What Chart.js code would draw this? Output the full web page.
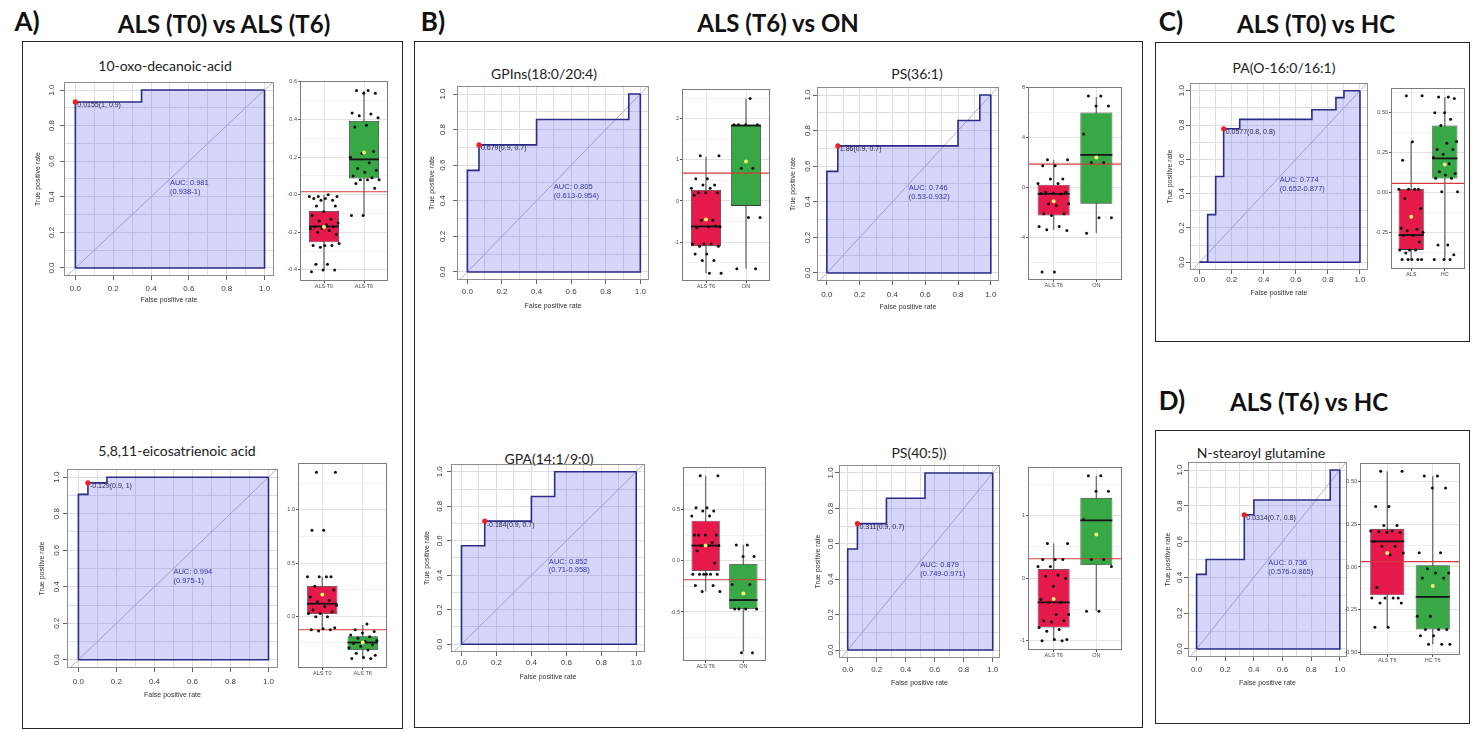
<!DOCTYPE html>
<html>
<head>
<meta charset="utf-8">
<script src="https://cdn.jsdelivr.net/npm/chart.js@4.4.1/dist/chart.umd.min.js"></script>
<style>
  body { margin:0; width:1472px; height:732px; background:#fff; position:relative; overflow:hidden; font-family:Lato, "Open Sans", sans-serif; }
  .frame { position:absolute; border:1px solid #262626; box-sizing:border-box; }
  .tag { position:absolute; font-weight:700; font-size:26px; color:#111; transform:translate(-50%,-50%); white-space:nowrap; }
  .head { position:absolute; font-weight:700; font-size:24px; color:#111; transform:translate(-50%,-50%); white-space:nowrap; }
  .sub { position:absolute; font-size:14px; color:#222; transform:translate(-50%,-50%); white-space:nowrap; }
  canvas { position:absolute; }
</style>
</head>
<body>
<div class="frame" style="left:22px;top:41px;width:381px;height:688px"></div>
<div class="frame" style="left:414px;top:41px;width:729px;height:687px"></div>
<div class="frame" style="left:1155px;top:42px;width:315px;height:300px"></div>
<div class="frame" style="left:1155px;top:430px;width:315px;height:294px"></div>

<div class="tag" style="left:27px;top:21px">A)</div>
<div class="head" style="left:224px;top:23px">ALS (T0) vs ALS (T6)</div>
<div class="tag" style="left:433px;top:21px">B)</div>
<div class="head" style="left:778px;top:22px">ALS (T6) vs ON</div>
<div class="tag" style="left:1171px;top:21px">C)</div>
<div class="head" style="left:1316px;top:23px">ALS (T0) vs HC</div>
<div class="tag" style="left:1172px;top:400px">D)</div>
<div class="head" style="left:1309px;top:401px">ALS (T6) vs HC</div>

<div class="sub" style="left:165px;top:65px">10-oxo-decanoic-acid</div>
<div class="sub" style="left:177px;top:450px">5,8,11-eicosatrienoic acid</div>
<div class="sub" style="left:544px;top:73px">GPIns(18:0/20:4)</div>
<div class="sub" style="left:917px;top:73px">PS(36:1)</div>
<div class="sub" style="left:549px;top:458px">GPA(14:1/9:0)</div>
<div class="sub" style="left:919px;top:452px">PS(40:5))</div>
<div class="sub" style="left:1284px;top:67px">PA(O-16:0/16:1)</div>
<div class="sub" style="left:1261px;top:452px">N-stearoyl glutamine</div>

<script>
// ---------- axis ticks shared by the ROC plots ----------
const rateTicks  = [0, 0.1, 0.2, 0.3, 0.4, 0.5, 0.6, 0.7, 0.8, 0.9, 1.0];
const rateLabels = ['0.0', '', '0.2', '', '0.4', '', '0.6', '', '0.8', '', '1.0'];

// ---------- A) 10-oxo-decanoic-acid ----------
const oxoRoc = [[0,0],[0,0.933],[0.35,0.933],[0.35,1],[1,1]];
const oxoBest = [0, 0.933];
const oxoBestText = '0.0155(1, 0.9)';
const oxoAuc = ['AUC: 0.981', '(0.938-1)'];
const oxoCutoff = 0.0155;
const oxoGroups = ['ALS T0', 'ALS T6'];
// whisker low, Q1, median, Q3, whisker high
const oxoStatsA = [-0.40, -0.253, -0.169, -0.086, 0.0];
const oxoStatsB = [-0.112, 0.086, 0.188, 0.392, 0.552];
const oxoMeans = [-0.172, 0.224];
const oxoPtsA = [-0.01,-0.01,-0.02,-0.02,-0.03,-0.03,-0.01,0.0,-0.06,-0.06,-0.09,-0.11,-0.13,-0.14,-0.15,-0.16,-0.17,-0.17,-0.18,-0.18,-0.19,-0.2,-0.21,-0.27,-0.27,-0.27,-0.28,-0.26,-0.37,-0.37,-0.4,-0.4,-0.41];
const oxoPtsB = [0.555,0.555,0.54,0.54,0.435,0.43,0.42,0.41,0.37,0.36,0.23,0.22,0.2,0.17,0.14,0.13,0.12,0.1,0.09,0.08,0.08,0.08,0.06,0.035,-0.11,-0.11];
const oxoYTicks = [-0.4, -0.2, 0.0, 0.2, 0.4, 0.6];

// ---------- A) 5,8,11-eicosatrienoic acid ----------
const eicoRoc = [[0,0],[0,0.906],[0.05,0.906],[0.05,0.969],[0.15,0.969],[0.15,1],[1,1]];
const eicoBest = [0.05, 0.969];
const eicoBestText = '-0.129(0.9, 1)';
const eicoAuc = ['AUC: 0.994', '(0.975-1)'];
const eicoCutoff = -0.129;
const eicoGroups = ['ALS T0', 'ALS T6'];
const eicoStatsA = [-0.116, 0.019, 0.116, 0.283, 0.37];
const eicoStatsB = [-0.40, -0.32, -0.25, -0.19, -0.085];
const eicoMeans = [0.204, -0.25];
const eicoPtsA = [1.355,1.355,0.81,0.81,0.37,0.37,0.37,0.37,0.28,0.245,0.21,0.18,0.15,0.135,0.1,0.09,0.057,0.04,0.025,0.025,-0.006,-0.006,-0.11,-0.12,-0.13,-0.13,-0.14];
const eicoPtsB = [-0.075,-0.13,-0.145,-0.16,-0.18,-0.195,-0.21,-0.23,-0.24,-0.26,-0.27,-0.285,-0.3,-0.32,-0.35,-0.37,-0.39,-0.4,-0.4];
const eicoYTicks = [0.0, 0.5, 1.0];

// ---------- B) GPIns(18:0/20:4) ----------
const gpinsRoc = [[0,0],[0,0.571],[0.067,0.571],[0.067,0.714],[0.4,0.714],[0.4,0.857],[0.933,0.857],[0.933,1],[1,1]];
const gpinsBest = [0.067, 0.714];
const gpinsBestText = '0.679(0.9, 0.7)';
const gpinsAuc = ['AUC: 0.805', '(0.613-0.954)'];
const gpinsCutoff = 0.679;
const gpinsGroups = ['ALS T6', 'ON'];
const gpinsStatsA = [-1.76, -1.1, -0.62, 0.27, 1.08];
const gpinsStatsB = [-1.65, -0.12, 1.84, 1.86, 2.5];
const gpinsMeans = [-0.45, 0.96];
const gpinsPtsA = [1.1,1.1,0.54,0.54,0.39,0.39,0.31,0.31,0.2,0.2,0.2,0.14,-0.47,-0.47,-0.63,-0.63,-0.65,-0.61,-1.05,-1.05,-1.05,-1.1,-1.1,-1.29,-1.29,-1.45,-1.45,-1.76,-1.76];
const gpinsPtsB = [2.5,1.86,1.86,1.86,1.86,0.8,0.8,-0.4,-0.4,-1.65,-1.65];
const gpinsYTicks = [-1, 0, 1, 2];

// ---------- B) PS(36:1) ----------
const ps361Roc = [[0,0],[0,0.571],[0.067,0.571],[0.067,0.714],[0.8,0.714],[0.8,0.857],[0.933,0.857],[0.933,1],[1,1]];
const ps361Best = [0.067, 0.714];
const ps361BestText = '1.86(0.9, 0.7)';
const ps361Auc = ['AUC: 0.746', '(0.53-0.932)'];
const ps361Cutoff = 1.86;
const ps361Groups = ['ALS T6', 'ON'];
const ps361StatsA = [-3.41, -2.27, -0.53, 0.21, 2.21];
const ps361StatsB = [-3.68, -1.33, 2.61, 6.0, 7.25];
const ps361Means = [-1.12, 2.4];
const ps361PtsA = [2.21,2.21,1.73,1.73,0.67,0.67,0.3,0.3,-0.4,-0.4,-0.45,-0.5,-0.53,-1.33,-1.33,-1.47,-2.13,-2.13,-2.27,-3.15,-3.15,-3.4,-3.47,-6.8,-6.8];
const ps361PtsB = [7.33,7.33,6.53,6.53,4.27,2.0,2.0,-2.45,-2.45,-3.68];
const ps361YTicks = [-4, 0, 4, 8];

// ---------- B) GPA(14:1/9:0) ----------
const gpaRoc = [[0,0],[0,0.571],[0.133,0.571],[0.133,0.714],[0.4,0.714],[0.4,0.857],[0.533,0.857],[0.533,1],[1,1]];
const gpaBest = [0.133, 0.714];
const gpaBestText = '-0.184(0.9, 0.7)';
const gpaAuc = ['AUC: 0.852', '(0.71-0.958)'];
const gpaCutoff = -0.184;
const gpaGroups = ['ALS T6', 'ON'];
const gpaStatsA = [-0.3, -0.098, 0.15, 0.393, 0.835];
const gpaStatsB = [-0.89, -0.47, -0.383, -0.03, 0.157];
const gpaMeans = [0.15, -0.318];
const gpaPtsA = [0.835,0.835,0.52,0.52,0.49,0.49,0.44,0.44,0.255,0.255,0.255,0.255,0.18,0.15,0.15,0.15,0.1,-0.02,-0.13,-0.13,-0.13,-0.13,-0.13,-0.13,-0.24,-0.24,-0.3,-0.3];
const gpaPtsB = [0.157,0.157,0.043,0.043,-0.23,-0.23,-0.47,-0.47,-0.47,-0.47,-0.9,-0.9];
const gpaYTicks = [-0.5, 0.0, 0.5];

// ---------- B) PS(40:5) ----------
const ps405Roc = [[0,0],[0,0.571],[0.067,0.571],[0.067,0.714],[0.267,0.714],[0.267,0.857],[0.533,0.857],[0.533,1],[1,1]];
const ps405Best = [0.067, 0.714];
const ps405BestText = '0.311(0.9, 0.7)';
const ps405Auc = ['AUC: 0.879', '(0.749-0.971)'];
const ps405Cutoff = 0.311;
const ps405Groups = ['ALS T6', 'ON'];
const ps405StatsA = [-1.0, -0.79, -0.386, 0.148, 0.556];
const ps405StatsB = [-0.53, 0.21, 0.926, 1.286, 1.64];
const ps405Means = [-0.333, 0.7];
const ps405PtsA = [0.556,0.556,0.3,0.3,0.3,0.185,0.185,0.05,0.03,0.0,-0.13,-0.34,-0.386,-0.386,-0.58,-0.58,-0.68,-0.68,-0.7,-0.79,-0.82,-0.85,-0.98,-0.98,-1.0,-1.0];
const ps405PtsB = [1.64,1.64,1.39,1.39,0.94,0.3,0.3,0.185,-0.53,-0.53];
const ps405YTicks = [-1, 0, 1];

// ---------- C) PA(O-16:0/16:1) ----------
const paoRoc = [[0,0],[0.05,0],[0.05,0.278],[0.1,0.278],[0.1,0.5],[0.15,0.5],[0.15,0.778],[0.25,0.778],[0.25,0.833],[0.7,0.833],[0.7,0.889],[0.85,0.889],[0.85,0.96],[0.9,0.96],[0.9,1],[1,1]];
const paoBest = [0.15, 0.778];
const paoBestText = '0.0577(0.8, 0.8)';
const paoAuc = ['AUC: 0.774', '(0.652-0.877)'];
const paoCutoff = 0.0577;
const paoGroups = ['ALS', 'HC'];
const paoStatsA = [-0.42, -0.36, -0.267, 0.022, 0.32];
const paoStatsB = [-0.42, 0.088, 0.214, 0.42, 0.6];
const paoMeans = [-0.152, 0.176];
const paoPtsA = [0.607,0.607,0.318,0.203,0.02,0.02,0.02,0.02,-0.037,-0.1,-0.15,-0.225,-0.23,-0.24,-0.25,-0.27,-0.27,-0.31,-0.36,-0.36,-0.36,-0.38,-0.42,-0.42,-0.42,-0.42,-0.42];
const paoPtsB = [0.6,0.6,0.59,0.5,0.5,0.46,0.42,0.32,0.31,0.27,0.27,0.24,0.22,0.18,0.13,0.12,0.11,0.09,0.09,0.005,0.005,-0.33,-0.33,-0.39,-0.42,-0.42,-0.42];
const paoYTicks = [-0.25, 0.0, 0.25, 0.5];

// ---------- D) N-stearoyl glutamine ----------
const nsgRoc = [[0,0],[0,0.417],[0.067,0.417],[0.067,0.5],[0.333,0.5],[0.333,0.75],[0.4,0.75],[0.4,0.833],[0.933,0.833],[0.933,1],[1,1]];
const nsgBest = [0.333, 0.75];
const nsgBestText = '0.0314(0.7, 0.8)';
const nsgAuc = ['AUC: 0.736', '(0.576-0.865)'];
const nsgCutoff = 0.0314;
const nsgGroups = ['ALS T6', 'HC T6'];
const nsgStatsA = [-0.352, -0.164, 0.149, 0.222, 0.557];
const nsgStatsB = [-0.45, -0.364, -0.174, 0.01, 0.53];
const nsgMeans = [0.081, -0.11];
const nsgPtsA = [0.557,0.557,0.352,0.352,0.242,0.242,0.21,0.21,0.205,0.2,0.2,0.149,0.12,0.12,0.081,0.07,-0.12,-0.18,-0.18,-0.18,-0.18,-0.21,-0.21,-0.35,-0.35];
const nsgPtsB = [0.53,0.53,0.46,0.46,0.083,0.083,-0.01,-0.035,-0.035,-0.064,-0.064,-0.286,-0.286,-0.364,-0.364,-0.364,-0.4,-0.4,-0.45,-0.45,-0.45];
const nsgYTicks = [-0.5, -0.25, 0.0, 0.25, 0.5];

// ---------- styling ----------
const SANS = "'Liberation Sans', Arial, sans-serif";
const NAVY = '#2c2c88';
const ROC_FILL = 'rgba(105,105,235,0.27)';
const BOX_RED = '#e6194b';
const BOX_GREEN = '#38a846';
Chart.defaults.font.family = SANS;
Chart.defaults.animation = false;

function addCanvas(x, y, w, h) {
  const c = document.createElement('canvas');
  c.width = w; c.height = h;
  c.style.left = x + 'px'; c.style.top = y + 'px';
  c.style.width = w + 'px'; c.style.height = h + 'px';
  document.body.appendChild(c);
  return c;
}

const near = (a, b) => Math.abs(a - b) < 1e-6;

// ROC curve with shaded AUC, chance diagonal and the best threshold point
function drawRoc(d, g) {
  const [rx, ry, rw, rh] = g.rect;
  const ml = Math.round(g.yTitle + 4), mt = 8, mr = 8, mb = Math.round(g.xTitle + 4);
  const cv = addCanvas(rx - ml, ry - mt, rw + ml + mr, rh + mt + mb);
  const curve = d.roc.map(p => ({x: p[0], y: p[1]}));
  const end = d.roc[d.roc.length - 1];
  const isMajor = v => rateLabels[rateTicks.findIndex(t => near(t, v))] !== '';
  const text = {
    id: 'rocText',
    afterDraw(chart) {
      const {ctx, chartArea: a, scales: {x, y}} = chart;
      ctx.save();
      ctx.strokeStyle = '#8e8e8e'; ctx.lineWidth = 1;
      ctx.strokeRect(a.left + 0.5, a.top + 0.5, a.right - a.left - 1, a.bottom - a.top - 1);
      ctx.fillStyle = '#3c3c3c'; ctx.font = '8px ' + SANS;
      ctx.textAlign = 'center'; ctx.textBaseline = 'middle';
      rateTicks.forEach((v, i) => {
        if (!rateLabels[i]) return;
        ctx.save();
        ctx.translate(a.left - g.yLab, y.getPixelForValue(v));
        ctx.rotate(-Math.PI / 2);
        ctx.fillText(rateLabels[i], 0, 0);
        ctx.restore();
      });
      ctx.textAlign = 'left'; ctx.font = '7px ' + SANS; ctx.fillStyle = '#26264a';
      ctx.fillText(d.bestText, x.getPixelForValue(d.best[0]) + 2, y.getPixelForValue(d.best[1]) + 3.5);
      ctx.fillStyle = '#3434a6'; ctx.font = '7.5px ' + SANS;
      ctx.fillText(d.auc[0], x.getPixelForValue(0.5), y.getPixelForValue(0.48));
      ctx.fillText(d.auc[1], x.getPixelForValue(0.5), y.getPixelForValue(0.43));
      ctx.restore();
    }
  };
  new Chart(cv, {
    type: 'line',
    data: { datasets: [
      { data: [{x: -0.2, y: -0.2}, {x: 1.2, y: 1.2}], borderColor: '#b2b2cc', borderWidth: 1, pointRadius: 0, fill: false, order: 3 },
      { data: curve, borderColor: NAVY, borderWidth: 1.6, backgroundColor: ROC_FILL, fill: 'origin', pointRadius: 0, order: 2 },
      { data: [{x: end[0], y: end[1]}, {x: 1, y: 0}, {x: 0, y: 0}], borderColor: NAVY, borderWidth: 1.6, pointRadius: 0, fill: false, order: 1 },
      { type: 'scatter', data: [{x: d.best[0], y: d.best[1]}], pointRadius: 2.6, pointBackgroundColor: '#ee2020', pointBorderWidth: 0, order: 0 }
    ]},
    options: {
      responsive: false, devicePixelRatio: 1, events: [],
      layout: { padding: { left: 0, top: mt, right: mr, bottom: 0 } },
      plugins: { legend: { display: false }, tooltip: { enabled: false } },
      scales: {
        x: {
          type: 'linear', min: -0.06, max: 1.05,
          afterBuildTicks: s => { s.ticks = rateTicks.map(v => ({value: v})); },
          afterFit: s => { s.height = mb; },
          ticks: { callback: v => rateLabels[rateTicks.findIndex(t => near(t, v))], font: {size: 8}, color: '#3c3c3c', padding: Math.max(0, g.xLab - 8.8), maxRotation: 0, autoSkip: false },
          grid: { color: '#dddde4', tickLength: 4, tickColor: c => (c.tick && isMajor(c.tick.value)) ? '#666' : 'rgba(0,0,0,0)' },
          border: { display: false },
          title: { display: true, text: 'False positive rate', font: {size: 7}, color: '#333', padding: 0 }
        },
        y: {
          type: 'linear', min: -0.045, max: 1.045,
          afterBuildTicks: s => { s.ticks = rateTicks.map(v => ({value: v})); },
          afterFit: s => { s.width = ml; },
          ticks: { display: false },
          grid: { color: '#dddde4', tickLength: 4, tickColor: c => (c.tick && isMajor(c.tick.value)) ? '#666' : 'rgba(0,0,0,0)' },
          border: { display: false },
          title: { display: true, text: 'True positive rate', font: {size: 7}, color: '#333', padding: 0 }
        }
      }
    },
    plugins: [text]
  });
}

// horizontal spread of the dots inside each group
const spread = k => (((k * 0.6180339887 + 0.31) % 1) - 0.5) * 0.76;

// box plot: two groups with whiskers, median, mean, dots and the cutoff line
function drawBox(d, g) {
  const [rx, ry, rw, rh] = g.rect;
  const ml = 24, mt = 6, mr = 3, mb = 13;
  const cv = addCanvas(rx - ml, ry - mt, rw + ml + mr, rh + mt + mb);
  const half = 0.375;
  const step = d.yTicks[1] - d.yTicks[0];
  const allTicks = [];
  for (let v = d.yTicks[0] - step * 2; v <= g.max + 1e-9; v += step / 2) if (v >= g.min - 1e-9) allTicks.push(v);
  const isMajor = v => d.yTicks.some(t => near(t, v));
  const groups = [
    {stats: d.statsA, mean: d.means[0], pts: d.ptsA},
    {stats: d.statsB, mean: d.means[1], pts: d.ptsB}
  ];
  const datasets = [{
    type: 'bar',
    data: groups.map((gr, i) => ({x: i + 1, y: [gr.stats[1], gr.stats[3]]})),
    backgroundColor: [BOX_RED, BOX_GREEN], borderColor: '#3a3a3a', borderWidth: 0.8, borderSkipped: false,
    barPercentage: 0.75, categoryPercentage: 1, order: 5
  }];
  groups.forEach((gr, i) => {
    datasets.push({ type: 'line', data: [{x: i + 1, y: gr.stats[0]}, {x: i + 1, y: gr.stats[4]}], borderColor: '#747474', borderWidth: 1.4, pointRadius: 0, fill: false, order: 6 });
    datasets.push({ type: 'line', data: [{x: i + 1 - half, y: gr.stats[2]}, {x: i + 1 + half, y: gr.stats[2]}], borderColor: '#151515', borderWidth: 1.8, pointRadius: 0, fill: false, order: 2 });
    datasets.push({ type: 'scatter', data: gr.pts.map((v, k) => ({x: i + 1 + spread(k + i * 7), y: v})), pointRadius: 1.5, pointBackgroundColor: '#111', pointBorderWidth: 0, order: 1 });
  });
  datasets.push({ type: 'line', data: [{x: 0, y: d.cutoff}, {x: 3, y: d.cutoff}], borderColor: '#d43a3a', borderWidth: 1.1, pointRadius: 0, fill: false, order: 3 });
  datasets.push({ type: 'scatter', data: groups.map((gr, i) => ({x: i + 1, y: gr.mean})), pointRadius: 2, pointBackgroundColor: '#f3f36a', pointBorderWidth: 0, order: 0 });
  const frame = {
    id: 'boxFrame',
    afterDraw(chart) {
      const {ctx, chartArea: a} = chart;
      ctx.save();
      ctx.strokeStyle = '#7c7c7c'; ctx.lineWidth = 1;
      ctx.strokeRect(a.left + 0.5, a.top + 0.5, a.right - a.left - 1, a.bottom - a.top - 1);
      ctx.restore();
    }
  };
  new Chart(cv, {
    type: 'bar',
    data: { datasets },
    options: {
      responsive: false, devicePixelRatio: 1, events: [],
      layout: { padding: { left: 0, top: mt, right: mr, bottom: 0 } },
      plugins: { legend: { display: false }, tooltip: { enabled: false } },
      scales: {
        x: {
          type: 'linear', min: 0.4, max: 2.6, offset: false,
          afterBuildTicks: s => { s.ticks = [{value: 1}, {value: 2}]; },
          afterFit: s => { s.height = mb; },
          ticks: { callback: v => d.groups[Math.round(v) - 1], font: {size: 5.5}, color: '#4a4a4a', padding: 0.5, maxRotation: 0, autoSkip: false },
          grid: { offset: false, color: '#e6e6e6', tickLength: 2, tickColor: '#555' },
          border: { display: false }
        },
        y: {
          type: 'linear', min: g.min, max: g.max, beginAtZero: false,
          afterBuildTicks: s => { s.ticks = allTicks.map(v => ({value: v})); },
          afterFit: s => { s.width = ml; },
          ticks: { callback: v => isMajor(v) ? v.toFixed(g.dec) : '', font: {size: 5.5}, color: '#4a4a4a', padding: 1, autoSkip: false },
          grid: { color: c => (c.tick && isMajor(c.tick.value)) ? '#e2e2e2' : '#f1f1f1', tickLength: 2, tickColor: c => (c.tick && isMajor(c.tick.value)) ? '#555' : 'rgba(0,0,0,0)' },
          border: { display: false }
        }
      }
    },
    plugins: [frame]
  });
}

// ---------- placement ----------
const panels = [
  { roc: {roc: oxoRoc, best: oxoBest, bestText: oxoBestText, auc: oxoAuc},
    rocAt: {rect: [64, 82, 210, 194], yLab: 12, yTitle: 26, xLab: 13, xTitle: 24},
    box: {groups: oxoGroups, statsA: oxoStatsA, statsB: oxoStatsB, means: oxoMeans, ptsA: oxoPtsA, ptsB: oxoPtsB, cutoff: oxoCutoff, yTicks: oxoYTicks},
    boxAt: {rect: [300, 81, 89, 200], min: -0.459, max: 0.605, dec: 1} },
  { roc: {roc: eicoRoc, best: eicoBest, bestText: eicoBestText, auc: eicoAuc},
    rocAt: {rect: [67, 469, 211, 199], yLab: 10, yTitle: 25, xLab: 14, xTitle: 27},
    box: {groups: eicoGroups, statsA: eicoStatsA, statsB: eicoStatsB, means: eicoMeans, ptsA: eicoPtsA, ptsB: eicoPtsB, cutoff: eicoCutoff, yTicks: eicoYTicks},
    boxAt: {rect: [298, 463, 90, 205], min: -0.49, max: 1.443, dec: 1} },
  { roc: {roc: gpinsRoc, best: gpinsBest, bestText: gpinsBestText, auc: gpinsAuc},
    rocAt: {rect: [457, 86, 192, 194], yLab: 14, yTitle: 25, xLab: 12, xTitle: 26},
    box: {groups: gpinsGroups, statsA: gpinsStatsA, statsB: gpinsStatsB, means: gpinsMeans, ptsA: gpinsPtsA, ptsB: gpinsPtsB, cutoff: gpinsCutoff, yTicks: gpinsYTicks},
    boxAt: {rect: [682, 89, 89, 192], min: -1.95, max: 2.73, dec: 0} },
  { roc: {roc: ps361Roc, best: ps361Best, bestText: ps361BestText, auc: ps361Auc},
    rocAt: {rect: [817, 87, 182, 194], yLab: 9, yTitle: 24, xLab: 14, xTitle: 26},
    box: {groups: ps361Groups, statsA: ps361StatsA, statsB: ps361StatsB, means: ps361Means, ptsA: ps361PtsA, ptsB: ps361PtsB, cutoff: ps361Cutoff, yTicks: ps361YTicks},
    boxAt: {rect: [1028, 87, 95, 193], min: -7.44, max: 8.05, dec: 0} },
  { roc: {roc: gpaRoc, best: gpaBest, bestText: gpaBestText, auc: gpaAuc},
    rocAt: {rect: [451, 464, 194, 188], yLab: 11, yTitle: 24, xLab: 11, xTitle: 25},
    box: {groups: gpaGroups, statsA: gpaStatsA, statsB: gpaStatsB, means: gpaMeans, ptsA: gpaPtsA, ptsB: gpaPtsB, cutoff: gpaCutoff, yTicks: gpaYTicks},
    boxAt: {rect: [683, 467, 84, 194], min: -0.98, max: 0.92, dec: 1} },
  { roc: {roc: ps405Roc, best: ps405Best, bestText: ps405BestText, auc: ps405Auc},
    rocAt: {rect: [839, 465, 161, 193], yLab: 8, yTitle: 21, xLab: 12, xTitle: 25},
    box: {groups: ps405Groups, statsA: ps405StatsA, statsB: ps405StatsB, means: ps405Means, ptsA: ps405PtsA, ptsB: ps405PtsB, cutoff: ps405Cutoff, yTicks: ps405YTicks},
    boxAt: {rect: [1028, 467, 95, 183], min: -1.15, max: 1.78, dec: 0} },
  { roc: {roc: paoRoc, best: paoBest, bestText: paoBestText, auc: paoAuc},
    rocAt: {rect: [1190, 83, 178, 187], yLab: 8, yTitle: 20, xLab: 10, xTitle: 23},
    box: {groups: paoGroups, statsA: paoStatsA, statsB: paoStatsB, means: paoMeans, ptsA: paoPtsA, ptsB: paoPtsB, cutoff: paoCutoff, yTicks: paoYTicks},
    boxAt: {rect: [1391, 88, 75, 181], min: -0.48, max: 0.656, dec: 2} },
  { roc: {roc: nsgRoc, best: nsgBest, bestText: nsgBestText, auc: nsgAuc},
    rocAt: {rect: [1188, 462, 159, 195], yLab: 8, yTitle: 20, xLab: 13, xTitle: 26},
    box: {groups: nsgGroups, statsA: nsgStatsA, statsB: nsgStatsB, means: nsgMeans, ptsA: nsgPtsA, ptsB: nsgPtsB, cutoff: nsgCutoff, yTicks: nsgYTicks},
    boxAt: {rect: [1360, 463, 101, 192], min: -0.512, max: 0.605, dec: 2} }
];

panels.forEach(p => { drawRoc(p.roc, p.rocAt); drawBox(p.box, p.boxAt); });
</script>
</body>
</html>
